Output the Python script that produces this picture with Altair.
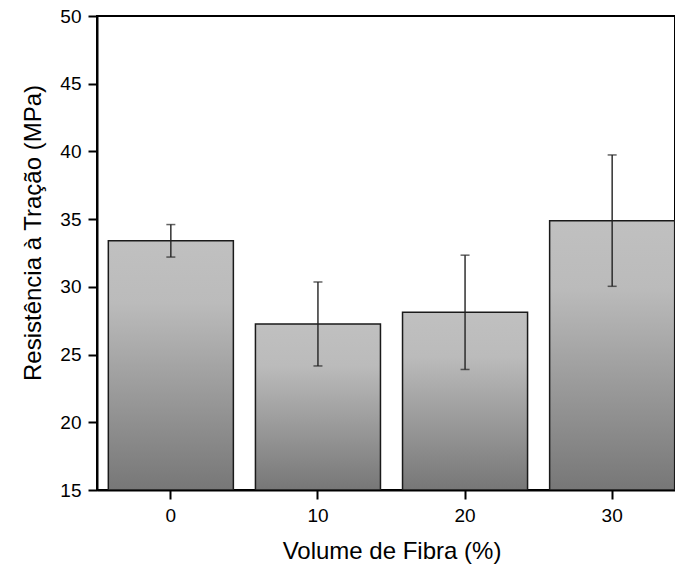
import altair as alt
import pandas as pd

volume = ["0", "10", "20", "30"]
resistencia = [33.4, 27.26, 28.12, 34.89]
desvio = [1.2, 3.1, 4.22, 4.85]
y_ticks = [15, 20, 25, 30, 35, 40, 45, 50]

df = pd.DataFrame({"volume": volume, "media": resistencia, "desvio": desvio})

FONT = "Liberation Sans"

x_enc = alt.X(
    "volume:N",
    sort=volume,
    scale=alt.Scale(range=[0, 589], paddingInner=0.15, paddingOuter=0.077),
    axis=alt.Axis(
        title="Volume de Fibra (%)",
        labelAngle=0,
        titleX=294.5,
        titleY=68,
        titleAlign="center",
        titleBaseline="alphabetic",
    ),
)
y_scale = alt.Scale(domain=[15, 50], zero=False, nice=False)

base = alt.Chart(df).transform_calculate(
    lo="datum.media - datum.desvio", hi="datum.media + datum.desvio"
)

gradient = alt.Gradient(
    gradient="linear",
    x1=0, x2=0, y1=0, y2=1,
    stops=[
        alt.GradientStop(color="#c0c0c0", offset=0),
        alt.GradientStop(color="#bbbbbb", offset=0.25),
        alt.GradientStop(color="#777777", offset=1),
    ],
)

bars = base.mark_bar(fill=gradient, stroke="#1a1a1a", strokeWidth=1.5, clip=True).encode(
    x=x_enc,
    y=alt.Y(
        "media:Q",
        scale=y_scale,
        axis=alt.Axis(
            title="Resistência à Tração (MPa)",
            values=y_ticks,
            titleX=-57,
            titleY=216.5,
            titleAngle=270,
            titleAlign="center",
            titleBaseline="alphabetic",
        ),
    ),
    y2=alt.datum(15),
)

rule = base.mark_rule(color="#222222", strokeWidth=1.4).encode(
    x=x_enc, y=alt.Y("lo:Q", scale=y_scale), y2="hi:Q"
)
cap_lo = base.mark_tick(color="#222222", size=9, thickness=1.5).encode(
    x=x_enc, y=alt.Y("lo:Q", scale=y_scale)
)
cap_hi = base.mark_tick(color="#222222", size=9, thickness=1.5).encode(
    x=x_enc, y=alt.Y("hi:Q", scale=y_scale)
)

chart = (
    alt.layer(bars, rule, cap_lo, cap_hi)
    .properties(
        width=578,
        height=474,
        autosize=alt.AutoSizeParams(type="none"),
        padding={"left": 97, "top": 16, "right": 0, "bottom": 74},
    )
    .configure_view(stroke="black", strokeWidth=2)
    .configure_axis(
        domainColor="black",
        domainWidth=2,
        tickColor="black",
        tickWidth=2,
        tickSize=9,
        grid=False,
        labelFont=FONT,
        labelFontSize=19,
        labelColor="black",
        labelPadding=7,
        titleFont=FONT,
        titleFontSize=24,
        titleFontWeight="normal",
        titleColor="black",
    )
)

chart.save("out.html", embed_options={"renderer": "svg", "actions": False})
